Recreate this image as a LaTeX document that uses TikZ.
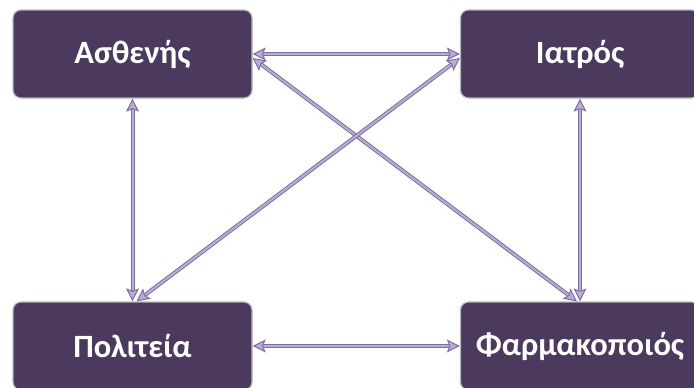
\documentclass[tikz,border=0pt]{standalone}
\usepackage{fontspec}
\setmainfont{Carlito}
\usetikzlibrary{arrows.meta,math}

\definecolor{boxfill}{HTML}{4B3A5E}
\definecolor{boxedge}{HTML}{B8B4BC}
\definecolor{linkdark}{HTML}{7F6F9E}
\definecolor{linklight}{HTML}{B9ACD8}

\tikzset{
    actor/.style={draw=boxedge, line width=1.2pt, fill=boxfill, rounded corners=8pt,
        minimum width=239pt, minimum height=88pt, inner sep=0pt,
        text=white, font=\fontsize{32.5}{36}\selectfont\bfseries},
    link/.style={draw=linkdark, line width=1pt, double=linklight, double distance=2pt,
        {Stealth[length=13pt,width=13pt,inset=2.5pt,fill=linklight]}-{Stealth[length=13pt,width=13pt,inset=2.5pt,fill=linklight]}}
}

\begin{document}
\begin{tikzpicture}[x=1pt,y=-1pt]
            \tikzmath{\lx = 132.5; \rx = 580; \ty = 54; \by = 346;}
            \useasboundingbox (0,0) rectangle (694,388);

            \node[actor] (asthenis) at (\lx,\ty) {Ασθενής};
            \node[actor] (iatros) at (\rx,\ty) {Ιατρός};
            \node[actor] (politeia) at (\lx,\by) {Πολιτεία};
            \node[actor] (farmakopoios) at (\rx,\by) {Φαρμακοποιός};

            \draw[link] (asthenis.east) -- (iatros.west);
            \draw[link] (politeia.east) -- (farmakopoios.west);
            \draw[link] (asthenis.south) -- (politeia.north);
            \draw[link] (iatros.south) -- (farmakopoios.north);
            \draw[link] ([yshift=-4pt]asthenis.east) -- ([xshift=-3pt]farmakopoios.north);
            \draw[link] ([xshift=4pt]politeia.north) -- ([yshift=-4pt]iatros.west);
        \end{tikzpicture}
\end{document}
